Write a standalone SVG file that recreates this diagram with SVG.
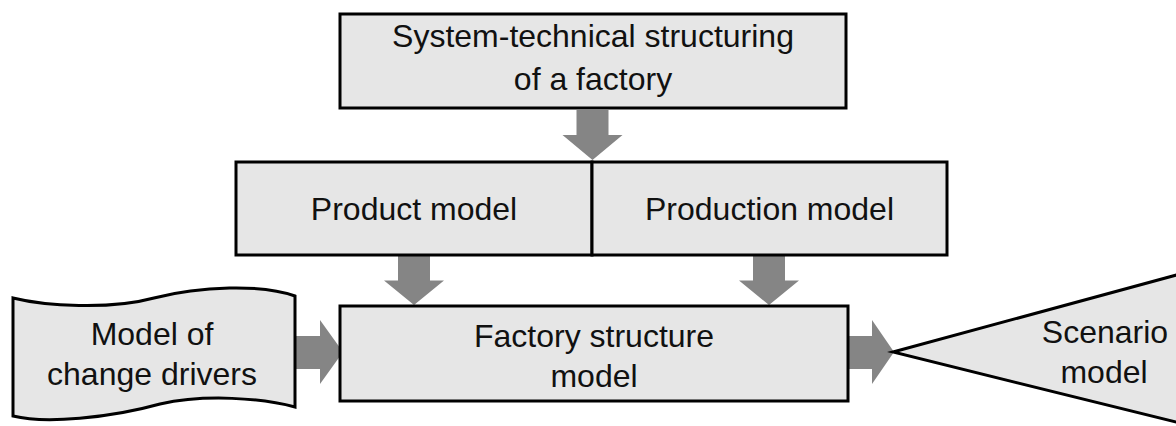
<svg xmlns="http://www.w3.org/2000/svg" width="1176" height="426" viewBox="0 0 1176 426">
  <style>
    .shape { fill: #e6e6e6; stroke: #000; stroke-width: 3; stroke-linejoin: miter; }
    .arrow { fill: #858585; stroke: none; }
    .label { font-family: "Liberation Sans", Arial, sans-serif; font-size: 32px; fill: #111; text-anchor: middle; }
  </style>
  <rect width="1176" height="426" fill="#fff"/>

  <!-- block arrows between the models -->
  <g id="connectors">
    <polygon class="arrow" points="576.5,110 608.5,110 608.5,135 622.5,135 592.5,160 562.5,135 576.5,135"/>
    <polygon class="arrow" points="398,256 430,256 430,280.5 444,280.5 414,305 384,280.5 398,280.5"/>
    <polygon class="arrow" points="753,256 785,256 785,280.5 799,280.5 769,305 739,280.5 753,280.5"/>
    <polygon class="arrow" points="294,336 320,336 320,320 343,352 320,384 320,369 294,369"/>
    <polygon class="arrow" points="847,336 872,336 872,320 894,352 872,384 872,369 847,369"/>
  </g>

  <g id="system-structuring">
    <rect class="shape" x="340" y="14" width="506" height="94"/>
    <text class="label" x="593" y="47">System-technical structuring</text>
    <text class="label" x="593" y="90">of a factory</text>
  </g>

  <g id="product-model">
    <rect class="shape" x="236" y="162" width="356" height="93"/>
    <text class="label" x="414" y="220">Product model</text>
  </g>

  <g id="production-model">
    <rect class="shape" x="592" y="162" width="355" height="93"/>
    <text class="label" x="769.5" y="220">Production model</text>
  </g>

  <g id="change-drivers">
    <path class="shape" d="M13,298 C45,306 110,310 154,298 C200,286 262,284 295,296 L295,407 C262,398 205,394 160,404 C110,418 45,424 13,416 Z"/>
    <text class="label" x="152" y="345">Model of</text>
    <text class="label" x="152" y="385">change drivers</text>
  </g>

  <g id="factory-structure">
    <rect class="shape" x="340" y="306" width="508" height="95"/>
    <text class="label" x="594" y="347">Factory structure</text>
    <text class="label" x="594" y="387">model</text>
  </g>

  <g id="scenario-model">
    <polygon class="shape" points="893,352 1180,274 1180,423"/>
    <text class="label" x="1105" y="343">Scenario</text>
    <text class="label" x="1104" y="383">model</text>
  </g>
</svg>
